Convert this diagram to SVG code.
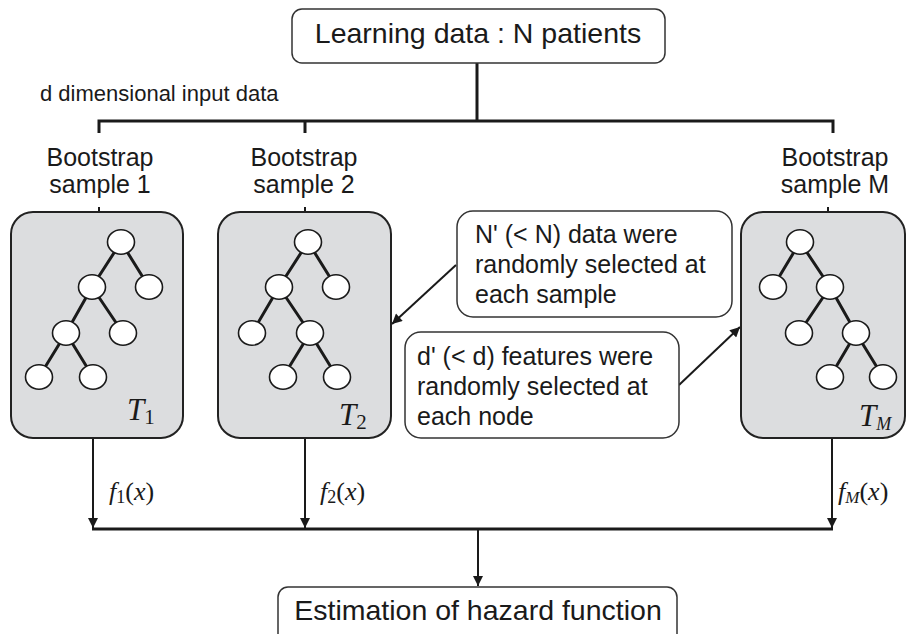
<svg xmlns="http://www.w3.org/2000/svg" width="908" height="634" viewBox="0 0 908 634">
<style>
.sans{font-family:"Liberation Sans",Arial,sans-serif;fill:#1a1a1a}
.math{font-family:"Liberation Serif","DejaVu Serif",serif;fill:#1a1a1a}
.box{fill:#fff;stroke:#333;stroke-width:1.5}
.tbox{fill:#dcdddf;stroke:#222;stroke-width:2}
.edge{stroke:#1a1a1a;stroke-width:3;fill:none}
.node{fill:#fff;stroke:#1a1a1a;stroke-width:1.6}
.thick{stroke:#1a1a1a;stroke-width:3;fill:none}
.thin{stroke:#1a1a1a;stroke-width:2;fill:none}
</style>
<defs>
<marker id="arr" viewBox="0 0 10 10" refX="10" refY="5" markerWidth="5.5" markerHeight="5" orient="auto" markerUnits="strokeWidth">
<path d="M0,0 L10,5 L0,10 z" fill="#1a1a1a"/>
</marker>
</defs>

<g id="connectors">
<path class="thick" d="M477,63 V121 M99,133 V121 H833 V133 M305,121 V133"/>
<path class="thin" d="M99,207 V212 M305,207 V212 M828,207 V212"/>
<line class="thin" x1="93" y1="438" x2="93" y2="528" marker-end="url(#arr)"/>
<line class="thin" x1="305" y1="438" x2="305" y2="528" marker-end="url(#arr)"/>
<line class="thin" x1="832" y1="438" x2="832" y2="528" marker-end="url(#arr)"/>
<line class="thick" x1="92" y1="529" x2="833" y2="529"/>
<line class="thin" x1="478" y1="530" x2="478" y2="586" marker-end="url(#arr)"/>
<line class="thin" x1="456" y1="265" x2="392" y2="324" marker-end="url(#arr)"/>
<line class="thin" x1="679" y1="385" x2="740" y2="327" marker-end="url(#arr)"/>
<text class="math" x="109" y="500" font-size="26"><tspan font-style="italic">f</tspan><tspan font-size="18" dy="3">1</tspan><tspan dy="-3">(</tspan><tspan font-style="italic">x</tspan>)</text>
<text class="math" x="320" y="500" font-size="26"><tspan font-style="italic">f</tspan><tspan font-size="18" dy="3">2</tspan><tspan dy="-3">(</tspan><tspan font-style="italic">x</tspan>)</text>
<text class="math" x="838" y="500" font-size="26"><tspan font-style="italic">f</tspan><tspan font-size="17" font-style="italic" dy="3">M</tspan><tspan dy="-3">(</tspan><tspan font-style="italic">x</tspan>)</text>
</g>

<g id="learning">
<rect class="box" x="292" y="9" width="373" height="54" rx="10"/>
<text class="sans" x="478" y="43" font-size="28.5" text-anchor="middle">Learning data : N patients</text>
</g>

<text class="sans" x="40" y="101" font-size="22">d dimensional input data</text>

<g id="label1" class="sans" font-size="25" text-anchor="middle">
<text x="100" y="166">Bootstrap</text>
<text x="100" y="193">sample 1</text>
</g>
<g id="label2" class="sans" font-size="25" text-anchor="middle">
<text x="304" y="166">Bootstrap</text>
<text x="304" y="193">sample 2</text>
</g>
<g id="labelM" class="sans" font-size="25" text-anchor="middle">
<text x="835" y="166">Bootstrap</text>
<text x="835" y="193">sample M</text>
</g>

<g id="tree1">
<rect class="tbox" x="11" y="212" width="172" height="226" rx="22"/>
<path class="edge" d="M121,242 L92,287 M121,242 L149,287 M92,287 L66,333 M92,287 L123,333 M66,333 L39,377 M66,333 L93,377"/>
<ellipse class="node" cx="121" cy="242" rx="13.5" ry="12.3"/>
<ellipse class="node" cx="92" cy="287" rx="13.5" ry="12.3"/>
<ellipse class="node" cx="149" cy="287" rx="13.5" ry="12.3"/>
<ellipse class="node" cx="66" cy="333" rx="13.5" ry="12.3"/>
<ellipse class="node" cx="123" cy="333" rx="13.5" ry="12.3"/>
<ellipse class="node" cx="39" cy="377" rx="13.5" ry="12.3"/>
<ellipse class="node" cx="93" cy="377" rx="13.5" ry="12.3"/>
<text class="math" x="127" y="420" font-size="31"><tspan font-style="italic">T</tspan><tspan font-size="21" dy="4">1</tspan></text>
</g>

<g id="tree2">
<rect class="tbox" x="218" y="212" width="173" height="226" rx="22"/>
<path class="edge" d="M308,242 L279,287 M308,242 L336,287 M279,287 L252,333 M279,287 L310,333 M310,333 L283,377 M310,333 L337,377"/>
<ellipse class="node" cx="308" cy="242" rx="13.5" ry="12.3"/>
<ellipse class="node" cx="279" cy="287" rx="13.5" ry="12.3"/>
<ellipse class="node" cx="336" cy="287" rx="13.5" ry="12.3"/>
<ellipse class="node" cx="252" cy="333" rx="13.5" ry="12.3"/>
<ellipse class="node" cx="310" cy="333" rx="13.5" ry="12.3"/>
<ellipse class="node" cx="283" cy="377" rx="13.5" ry="12.3"/>
<ellipse class="node" cx="337" cy="377" rx="13.5" ry="12.3"/>
<text class="math" x="339" y="425" font-size="31"><tspan font-style="italic">T</tspan><tspan font-size="21" dy="4">2</tspan></text>
</g>

<g id="treeM">
<rect class="tbox" x="741" y="212" width="164" height="226" rx="22"/>
<path class="edge" d="M800,242 L773,287 M800,242 L830,287 M830,287 L799,333 M830,287 L856,333 M856,333 L830,377 M856,333 L883,377"/>
<ellipse class="node" cx="800" cy="242" rx="13.5" ry="12.3"/>
<ellipse class="node" cx="773" cy="287" rx="13.5" ry="12.3"/>
<ellipse class="node" cx="830" cy="287" rx="13.5" ry="12.3"/>
<ellipse class="node" cx="799" cy="333" rx="13.5" ry="12.3"/>
<ellipse class="node" cx="856" cy="333" rx="13.5" ry="12.3"/>
<ellipse class="node" cx="830" cy="377" rx="13.5" ry="12.3"/>
<ellipse class="node" cx="883" cy="377" rx="13.5" ry="12.3"/>
<text class="math" x="859" y="426" font-size="31"><tspan font-style="italic">T</tspan><tspan font-size="18" font-style="italic" dy="4">M</tspan></text>
</g>

<g id="callout1">
<rect class="box" x="457" y="211" width="275" height="106" rx="16"/>
<text class="sans" font-size="25"><tspan x="475" y="243">N' (&lt; N) data were</tspan><tspan x="475" y="273">randomly selected at</tspan><tspan x="475" y="303">each sample</tspan></text>
</g>

<g id="callout2">
<rect class="box" x="405" y="332" width="274" height="106" rx="16"/>
<text class="sans" font-size="25"><tspan x="417" y="365">d' (&lt; d) features were</tspan><tspan x="417" y="395">randomly selected at</tspan><tspan x="417" y="425">each node</tspan></text>
</g>

<g id="estimation">
<rect class="box" x="278" y="587" width="399" height="60" rx="10"/>
<text class="sans" x="478" y="620" font-size="28.5" text-anchor="middle">Estimation of hazard function</text>
</g>
</svg>
